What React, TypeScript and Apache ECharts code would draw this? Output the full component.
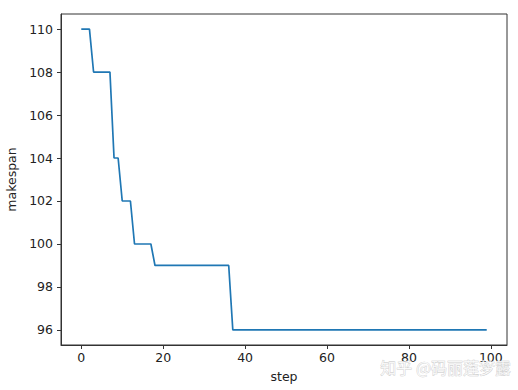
import React, { useEffect, useRef } from "react";
import * as echarts from "echarts";

const steps: number[] = Array.from({ length: 100 }, (_, i) => i);
const makespan: number[] = [
  110, 110, 110, 108, 108, 108, 108, 108, 104, 104,
  102, 102, 102, 100, 100, 100, 100, 100, 99, 99,
  99, 99, 99, 99, 99, 99, 99, 99, 99, 99,
  99, 99, 99, 99, 99, 99, 99, 96, 96, 96,
  96, 96, 96, 96, 96, 96, 96, 96, 96, 96,
  96, 96, 96, 96, 96, 96, 96, 96, 96, 96,
  96, 96, 96, 96, 96, 96, 96, 96, 96, 96,
  96, 96, 96, 96, 96, 96, 96, 96, 96, 96,
  96, 96, 96, 96, 96, 96, 96, 96, 96, 96,
  96, 96, 96, 96, 96, 96, 96, 96, 96, 96,
];
const xTicks: number[] = [0, 20, 40, 60, 80, 100];
const yTicks: number[] = [96, 98, 100, 102, 104, 106, 108, 110];
const xLabel = "step";
const yLabel = "makespan";
const watermark = "知乎 @码丽莲梦露";

const FONT = "DejaVu Sans";

export default function App() {
  const ref = useRef<HTMLDivElement>(null);
  useEffect(() => {
    if (!ref.current) return;
    const chart = echarts.init(ref.current, undefined, { renderer: "svg" });
    const axisText = { color: "#222", fontFamily: FONT, fontSize: 12.5 };
    chart.setOption({
      animation: false,
      backgroundColor: "#fff",
      grid: {
        left: 61,
        top: 14,
        right: 11,
        bottom: 45,
        containLabel: false,
        outerBoundsMode: "none",
        show: true,
        borderColor: "#333",
        borderWidth: 1,
        backgroundColor: "transparent",
      },
      xAxis: {
        type: "value",
        min: -4.95,
        max: 103.95,
        name: xLabel,
        nameLocation: "middle",
        nameGap: 25,
        nameTextStyle: axisText,
        axisLine: { show: true, onZero: false, lineStyle: { color: "#333", width: 1 } },
        axisTick: {
          show: true,
          inside: false,
          length: 4,
          customValues: xTicks,
          lineStyle: { color: "#333", width: 1 },
        },
        axisLabel: { ...axisText, margin: 6, customValues: xTicks },
        splitLine: { show: false },
      },
      yAxis: {
        type: "value",
        min: 95.3,
        max: 110.7,
        name: yLabel,
        nameLocation: "middle",
        nameGap: 35,
        nameRotate: 90,
        nameTextStyle: axisText,
        axisLine: { show: true, onZero: false, lineStyle: { color: "#333", width: 1 } },
        axisTick: {
          show: true,
          inside: false,
          length: 4,
          customValues: yTicks,
          lineStyle: { color: "#333", width: 1 },
        },
        axisLabel: { ...axisText, margin: 8, customValues: yTicks },
        splitLine: { show: false },
      },
      series: [
        {
          type: "line",
          data: steps.map((s, i) => [s, makespan[i]]),
          showSymbol: false,
          symbol: "none",
          lineStyle: { color: "#1f77b4", width: 1.7 },
        },
      ],
      graphic: [
        {
          type: "text",
          left: 380,
          top: 359,
          z: 100,
          style: {
            text: watermark,
            fontFamily: "Noto Sans CJK SC",
            fontSize: 16,
            fill: "rgba(255,255,255,0.75)",
            stroke: "#c4c4c4",
            lineWidth: 0.6,
          },
        },
      ],
    });
    return () => chart.dispose();
  }, []);
  return (
    <div
      ref={ref}
      style={{ position: "fixed", left: 0, top: 0, width: 518, height: 390 }}
    />
  );
}
